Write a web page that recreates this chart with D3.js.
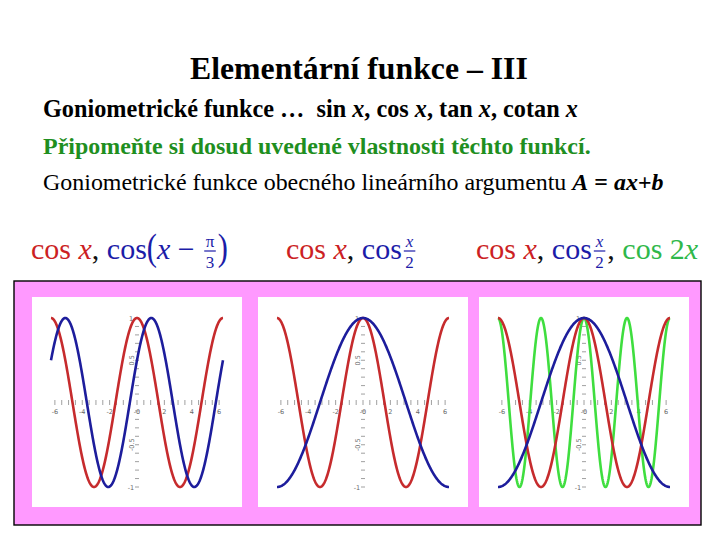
<!DOCTYPE html>
<html><head><meta charset="utf-8">
<script src="https://cdn.jsdelivr.net/npm/d3@7"></script>
<style>body{margin:0;background:#fff}</style>
</head><body>
<svg id="c" width="720" height="540"></svg>
<script>
// ---------- data ----------
const titleText = "Elementární funkce – III";
const line2 = [["Goniometrické funkce …  sin ",""],["x","i"],[", cos ",""],["x","i"],[", tan ",""],["x","i"],[", cotan ",""],["x","i"]];
const line3 = "Připomeňte si dosud uvedené vlastnosti těchto funkcí.";
const line4 = [["Goniometrické funkce obecného lineárního argumentu ",""],["A","bi"],[" = ","b"],["ax+b","bi"]];
// curves: y = cos(a*x + b) on x in [-2π, 2π]
const curvePanel = [0, 0, 1, 1, 2, 2, 2];
const curveColor = ["red", "blue", "red", "blue", "green", "red", "blue"];
const curveA     = [1, 1, 1, 0.5, 2, 1, 0.5];
const curveB     = [0, -Math.PI/3, 0, 0, 0, 0, 0];
const xTicks = d3.range(-6, 6.001, 0.5);
const xTickLabels = [-6, -4, -2, 0, 2, 4, 6];
const yTicks = d3.range(-10, 11).filter(d => d !== 0).map(d => d / 10);
const yTickLabels = [1, 0.5, -0.5, -1];
// formula tokens: [text, colour, style]  style: "" upright, "i" italic, "f" fraction num|den, "p" big paren
const formulas = [
  [["cos","red",""],[" x","red","i"],[",","black",""],[" cos","blue",""],["(","blue","p"],["x","blue","i"],[" − ","blue",""],["π|3","blue","f"],[")","blue","p"]],
  [["cos","red",""],[" x","red","i"],[",","black",""],[" cos","blue",""],["x|2","blue","fi"]],
  [["cos","red",""],[" x","red","i"],[",","black",""],[" cos","blue",""],["x|2","blue","fi"],[",","black",""],[" cos 2","green",""],["x","green","i"]]
];
const formulaX = [31, 286, 476];

// ---------- drawing ----------
const svg = d3.select("#c");
svg.append("rect").attr("width", 720).attr("height", 540).attr("fill", "#fff");
const serif = "Liberation Serif, Times New Roman, Times, DejaVu Serif, Noto Serif, serif";

function fit(sel, target) {
  const w = sel.node().getComputedTextLength();
  const fs = parseFloat(sel.attr("font-size"));
  sel.attr("font-size", fs * target / w);
}
function richText(x, y, parts, color, baseWeight) {
  const t = svg.append("text").attr("x", x).attr("y", y).style("font-family", serif)
    .attr("font-size", 24).attr("fill", color).attr("font-weight", baseWeight)
    .attr("xml:space", "preserve").style("white-space", "pre");
  parts.forEach(p => {
    const ts = t.append("tspan").text(p[0]);
    if (p[1].includes("i")) ts.attr("font-style", "italic");
    if (p[1].includes("b")) ts.attr("font-weight", "bold");
  });
  return t;
}

const title = svg.append("text").attr("x", 190).attr("y", 79).style("font-family", serif)
  .attr("font-weight", "bold").attr("font-size", 30).attr("fill", "#000").text(titleText);
fit(title, 338);

fit(richText(43, 117, line2, "#000", "bold"), 535);
fit(svg.append("text").attr("x", 43).attr("y", 154).style("font-family", serif).attr("font-weight", "bold")
  .attr("font-size", 24).attr("fill", "#1f8f1f").text(line3), 548);
fit(richText(43, 190, line4, "#000", "normal"), 621);

// formulas
const fColors = { red: "#cc1f24", blue: "#1c1ca8", green: "#2fb84a", black: "#111" };
const fSize = 30, baseY = 259;
formulas.forEach((toks, fi) => {
  let x = formulaX[fi];
  toks.forEach(tok => {
    const [txt, col, st] = tok;
    const fill = fColors[col];
    if (st.startsWith("f")) {
      const [num, den] = txt.split("|");
      const fs = 17;
      const g = svg.append("g");
      const n = g.append("text").style("font-family", serif).attr("font-size", fs).attr("fill", fill)
        .attr("font-style", st.includes("i") ? "italic" : "normal").attr("text-anchor", "middle").text(num);
      const d = g.append("text").style("font-family", serif).attr("font-size", fs).attr("fill", fill)
        .attr("text-anchor", "middle").text(den);
      const w = Math.max(n.node().getComputedTextLength(), d.node().getComputedTextLength()) + 3;
      const cx = x + 2 + w / 2;
      n.attr("x", cx).attr("y", baseY - 12);
      d.attr("x", cx).attr("y", baseY + 9);
      g.append("line").attr("x1", x + 2).attr("x2", x + 2 + w).attr("y1", baseY - 8).attr("y2", baseY - 8)
        .attr("stroke", fill).attr("stroke-width", 1.2);
      x += w + 4;
    } else {
      const t = svg.append("text").attr("x", x).attr("y", st === "p" ? baseY + 1 : baseY)
        .style("font-family", serif).attr("font-size", st === "p" ? 38 : fSize).attr("fill", fill)
        .attr("font-style", st === "i" ? "italic" : "normal")
        .attr("transform", st === "p" ? `translate(${x},0) scale(0.8,1) translate(${-x},0)` : null)
        .attr("xml:space", "preserve").style("white-space", "pre")
        .text(txt);
      let w = t.node().getComputedTextLength();
      if (st === "p") w *= 0.8;
      x += w;
    }
  });
});

// frame
svg.append("rect").attr("x", 14).attr("y", 281).attr("width", 687).attr("height", 244)
  .attr("fill", "#ff99ff").attr("stroke", "#000").attr("stroke-width", 1.4);

const panelX = [32, 258, 479];
const panelY = 297, panelW = 210, panelH = 210;
const cColors = { red: "#c62b2d", blue: "#1d1d9c", green: "#3fde3f" };

panelX.forEach((px, pi) => {
  svg.append("rect").attr("x", px).attr("y", panelY).attr("width", panelW).attr("height", panelH).attr("fill", "#fff");
  const xs = d3.scaleLinear().domain([-2 * Math.PI, 2 * Math.PI]).range([px + 19, px + 191]);
  const ys = d3.scaleLinear().domain([-1, 1]).range([panelY + 190, panelY + 21]);
  const g = svg.append("g");
  const x0 = xs(0), y0 = ys(0);
  // x ticks
  g.selectAll(".xt").data(xTicks).join("line")
    .attr("x1", d => xs(d)).attr("x2", d => xs(d)).attr("y1", y0 - 2.5).attr("y2", y0 + 2.5)
    .attr("stroke", "#888").attr("stroke-width", 0.8);
  g.selectAll(".xl").data(xTickLabels).join("text")
    .attr("x", d => xs(d)).attr("y", y0 + 11).attr("text-anchor", "middle")
    .style("font-family", "DejaVu Sans, sans-serif").attr("font-size", 6.5).attr("fill", "#666")
    .text(d => d === 0 ? "-0" : d);
  // y ticks
  g.selectAll(".yt").data(yTicks).join("line")
    .attr("x1", x0 - 2).attr("x2", x0 + 2).attr("y1", d => ys(d)).attr("y2", d => ys(d))
    .attr("stroke", "#888").attr("stroke-width", 0.8);
  g.selectAll(".yl").data(yTickLabels).join("text")
    .style("font-family", "DejaVu Sans, sans-serif").attr("font-size", 6.5).attr("fill", "#666")
    .attr("text-anchor", "middle")
    .attr("transform", d => Math.abs(d) === 1 ? `translate(${x0 - 6},${ys(d) + 2.5})` : `translate(${x0 - 3},${ys(d)}) rotate(-90)`)
    .text(d => d);
  // curves
  const line = d3.line().x(d => xs(d[0])).y(d => ys(d[1])).curve(d3.curveLinear);
  curvePanel.forEach((p, ci) => {
    if (p !== pi) return;
    const pts = d3.range(0, 401).map(k => {
      const x = -2 * Math.PI + k * (4 * Math.PI / 400);
      return [x, Math.cos(curveA[ci] * x + curveB[ci])];
    });
    g.append("path").attr("d", line(pts)).attr("fill", "none")
      .attr("stroke", cColors[curveColor[ci]]).attr("stroke-width", 2.6).attr("stroke-linejoin", "round");
  });
});
</script>
</body></html>
